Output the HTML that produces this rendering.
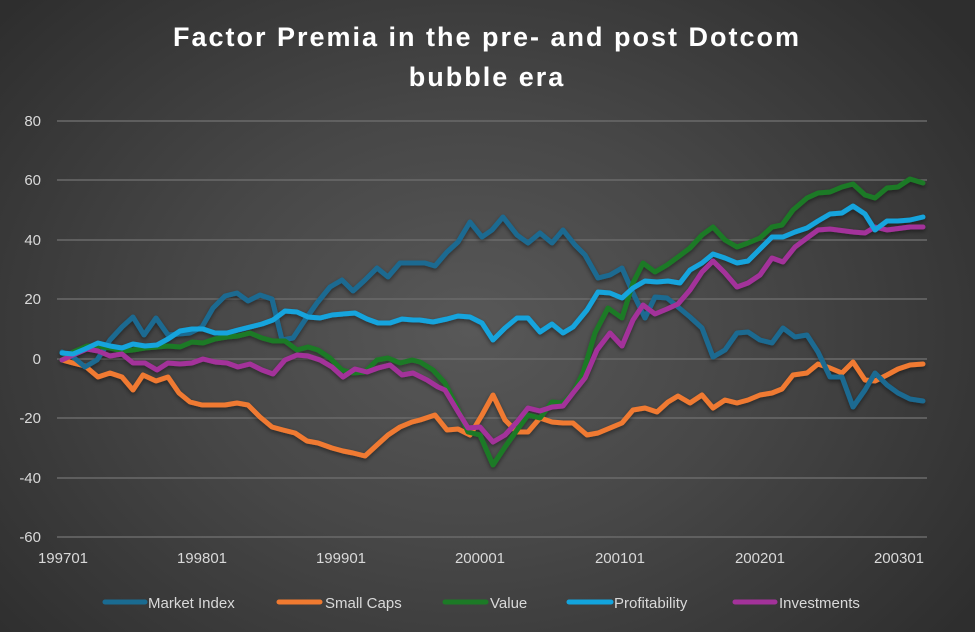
<!DOCTYPE html>
<html><head><meta charset="utf-8"><style>
html,body{margin:0;padding:0;}
body{width:975px;height:632px;overflow:hidden;background:radial-gradient(ellipse 620px 480px at 470px 330px,#585858 0%,#474747 45%,#2e2e2e 100%);font-family:"Liberation Sans",sans-serif;}
</style></head><body>
<svg width="975" height="632" xmlns="http://www.w3.org/2000/svg" style="position:absolute;left:0;top:0">
<defs><filter id="sh" x="-5%" y="-5%" width="110%" height="110%"><feDropShadow dx="0" dy="2" stdDeviation="2" flood-color="#000" flood-opacity="0.45"/></filter></defs>
<g font-family="Liberation Sans, sans-serif" font-weight="bold" font-size="27" fill="#fff" text-anchor="middle" letter-spacing="2">
<text x="487" y="46">Factor Premia in the pre- and post Dotcom</text>
<text x="487" y="86">bubble era</text>
</g>
<g stroke="#6a6a6a" stroke-width="1.5">
<line x1="57" x2="927" y1="121" y2="121"/><line x1="57" x2="927" y1="180" y2="180"/>
<line x1="57" x2="927" y1="240" y2="240"/><line x1="57" x2="927" y1="299" y2="299"/>
<line x1="57" x2="927" y1="359" y2="359"/><line x1="57" x2="927" y1="418" y2="418"/>
<line x1="57" x2="927" y1="478" y2="478"/><line x1="57" x2="927" y1="537" y2="537"/>
</g>
<g font-size="15" fill="#d9d9d9" text-anchor="end">
<text x="41" y="126">80</text><text x="41" y="185">60</text><text x="41" y="245">40</text><text x="41" y="304">20</text>
<text x="41" y="364">0</text><text x="41" y="423">-20</text><text x="41" y="483">-40</text><text x="41" y="542">-60</text>
</g>
<g font-size="15" fill="#d9d9d9" text-anchor="middle">
<text x="63" y="563">199701</text><text x="202" y="563">199801</text><text x="341" y="563">199901</text><text x="480" y="563">200001</text>
<text x="620" y="563">200101</text><text x="760" y="563">200201</text><text x="899" y="563">200301</text>
</g>
<g fill="none" stroke-width="5" stroke-linejoin="round" stroke-linecap="round" filter="url(#sh)">
<polyline stroke="#f07a30" points="62,360 73,363 85,366 98,377 110,373 122,377 133,390 143,375 156,381 168,377 179,393 190,402 202,405 213,405 225,405 237,403 248,405 260,417 272,427 283,430 295,433 307,441 318,443 332,448 343,451 353,453 365,456 377,445 388,435 400,427 412,422 420,420 435,415 447,430 458,429 470,435 482,415 493,395 505,420 517,432 528,432 540,418 552,422 563,423 573,423 587,435 598,433 610,428 622,423 633,410 645,408 657,412 668,402 678,396 690,403 702,395 713,408 725,400 737,403 748,400 760,395 772,393 782,389 793,375 807,373 818,364 830,368 842,373 853,362 865,380 875,381 887,375 898,369 910,365 923,364"/>
<polyline stroke="#1a6b91" points="62,352 73,357 85,367 97,360 110,340 122,327 133,317 144,335 156,318 168,335 179,334 190,333 202,327 213,308 225,296 237,293 248,301 260,295 272,299 282,340 293,338 305,320 317,303 330,287 342,280 353,291 365,280 377,268 388,277 400,263 413,263 425,263 435,266 447,252 458,242 470,222 482,237 492,230 503,217 517,235 528,243 540,233 552,243 563,230 575,245 585,255 598,278 610,275 622,268 633,293 645,318 655,297 667,298 678,307 690,317 702,328 713,357 725,350 737,333 748,332 760,340 772,343 783,328 795,337 807,335 818,352 830,377 842,377 853,407 865,390 875,373 887,385 898,393 910,399 923,401"/>
<polyline stroke="#1c7a26" points="62,360 73,352 87,346 98,346 110,348 122,351 133,350 145,348 157,347 168,346 180,347 192,342 203,343 215,339 227,337 238,336 250,333 262,338 273,341 285,341 297,350 308,347 318,350 330,358 342,370 353,373 365,372 377,360 388,358 400,363 412,360 420,362 433,370 445,383 457,407 468,432 480,435 493,465 505,447 517,430 528,415 540,418 552,402 563,403 573,393 583,373 595,333 608,308 622,318 633,283 643,263 655,272 667,265 678,257 690,248 702,235 713,227 725,240 737,247 748,243 760,238 772,227 782,225 793,210 807,198 818,193 830,192 842,187 853,184 865,195 875,198 887,188 898,187 910,179 923,183"/>
<polyline stroke="#a3329a" points="62,360 73,355 87,349 98,351 110,356 122,354 133,363 145,363 157,370 168,363 180,364 192,363 203,359 215,362 227,363 238,367 250,364 262,370 273,374 285,360 297,355 308,356 320,360 332,367 343,377 355,369 367,372 378,368 390,365 402,375 413,373 427,380 438,387 445,390 457,410 468,428 480,427 493,442 505,435 517,422 528,408 540,411 552,407 563,406 573,393 585,378 597,350 610,333 622,346 633,320 643,305 655,314 667,309 678,304 690,290 702,272 713,261 725,273 737,287 748,283 760,275 772,258 783,262 795,247 807,238 818,230 830,229 853,232 865,233 875,227 887,230 910,227 923,227"/>
<polyline stroke="#12a4dd" points="62,353 73,354 85,349 98,343 110,346 122,348 133,344 145,346 157,345 168,339 180,331 192,329 203,329 215,333 227,333 238,330 250,327 262,324 273,320 285,311 297,312 308,317 320,318 332,315 343,314 355,313 367,319 378,323 390,323 402,319 413,320 420,320 433,322 447,319 458,316 470,317 482,323 493,340 505,328 517,318 528,318 540,332 552,324 563,333 573,327 587,310 598,292 610,293 622,298 633,288 645,281 657,282 668,281 680,283 690,270 702,263 713,254 725,258 737,263 748,261 760,249 772,237 783,237 795,232 807,228 818,221 830,214 842,213 853,206 865,214 875,230 887,221 898,221 910,220 923,217"/>
</g>
<g stroke-width="5" stroke-linecap="round">
<line x1="105" x2="145" y1="602" y2="602" stroke="#1a6b91"/>
<line x1="279" x2="320" y1="602" y2="602" stroke="#f07a30"/>
<line x1="445" x2="486" y1="602" y2="602" stroke="#1c7a26"/>
<line x1="569" x2="611" y1="602" y2="602" stroke="#12a4dd"/>
<line x1="735" x2="775" y1="602" y2="602" stroke="#a3329a"/>
</g>
<g font-size="15" fill="#d9d9d9">
<text x="148" y="608">Market Index</text>
<text x="325" y="608">Small Caps</text>
<text x="490" y="608">Value</text>
<text x="614" y="608">Profitability</text>
<text x="779" y="608">Investments</text>
</g>
</svg>
</body></html>
